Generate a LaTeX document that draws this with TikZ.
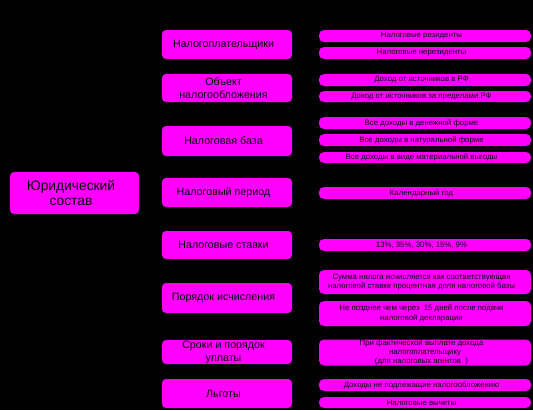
\documentclass[tikz,border=0pt]{standalone}
\usepackage{fontspec}
\setmainfont{Liberation Sans}
\newcommand{\sh}{\hspace*{7pt}}
\begin{document}
\begin{tikzpicture}[x=1pt,y=-1pt,
  box/.style={fill=magentabox, draw=none, rounded corners=4pt, inner sep=0pt, align=center, text=black},
  leftbox/.style={box, minimum width=129pt, font=\fontsize{13.8}{15.5}\selectfont},
  midbox/.style={box, minimum width=130pt, font=\fontsize{10.7}{13}\selectfont},
  rightbox/.style={box, minimum width=212pt, rounded corners=5pt, font=\fontsize{7.8}{9.3}\selectfont}]
\definecolor{magentabox}{RGB}{255,0,255}
\fill[black] (0,0) rectangle (533,410);
\useasboundingbox (0,0) rectangle (533,410);
% left
\node[leftbox, minimum height=42pt] (L) at (74.5,193) {Юридический\sh\\состав\sh};
% middle
\node[midbox, minimum height=29pt] (m1) at (227,44.5) {Налогоплательщики\sh};
\node[midbox, minimum height=28pt] (m2) at (227,88) {Объект\sh\\налогообложения\sh};
\node[midbox, minimum height=30pt] (m3) at (227,141) {Налоговая база\sh};
\node[midbox, minimum height=29pt] (m4) at (227,192.5) {Налоговый период\sh};
\node[midbox, minimum height=28pt] (m5) at (227,245) {Налоговые ставки\sh};
\node[midbox, minimum height=30pt] (m6) at (227,298) {Порядок исчисления\sh};
\node[midbox, minimum height=24pt] (m7) at (227,352) {Сроки и порядок\sh\\уплаты\sh};
\node[midbox, minimum height=29pt] (m8) at (227,393.5) {Льготы\sh};
% right
\node[rightbox, minimum height=12pt] (r1) at (425,36) {Налоговые резиденты\sh};
\node[rightbox, minimum height=12pt] (r2) at (425,53) {Налоговые нерезиденты\sh};
\node[rightbox, minimum height=12pt] (r3) at (425,80) {Доход от источников в РФ\sh};
\node[rightbox, minimum height=11pt] (r4) at (425,96.5) {Доход от источников за пределами РФ\sh};
\node[rightbox, minimum height=12pt] (r5) at (425,123) {Все доходы в денежной форме\sh};
\node[rightbox, minimum height=12pt] (r6) at (425,140) {Все доходы в натуральной форме\sh};
\node[rightbox, minimum height=11pt] (r7) at (425,157.5) {Все доходы в виде материальной выгоды\sh};
\node[rightbox, minimum height=12pt] (r8) at (425,193) {Календарный год\sh};
\node[rightbox, minimum height=12pt] (r9) at (425,245) {13\%, 35\%, 30\%, 15\%, 9\%\sh};
\node[rightbox, minimum height=24pt] (r10) at (425,282) {Сумма налога исчисляется как соответствующая\sh\\налоговой ставке процентная доля налоговой базы\sh};
\node[rightbox, minimum height=25pt] (r11) at (425,313.5) {Не позднее чем через \ 15 дней после подачи\sh\\налоговой декларации\sh};
\node[rightbox, minimum height=25pt] (r12) at (425,352.5) {При фактической выплате дохода\sh\\налогоплательщику\sh\\(для налоговых агентов \ )\sh};
\node[rightbox, minimum height=12pt] (r13) at (425,385) {Доходы не подлежащие налогообложению\sh};
\node[rightbox, minimum height=11pt] (r14) at (425,402.5) {Налоговые вычеты\sh};
\end{tikzpicture}
\end{document}
